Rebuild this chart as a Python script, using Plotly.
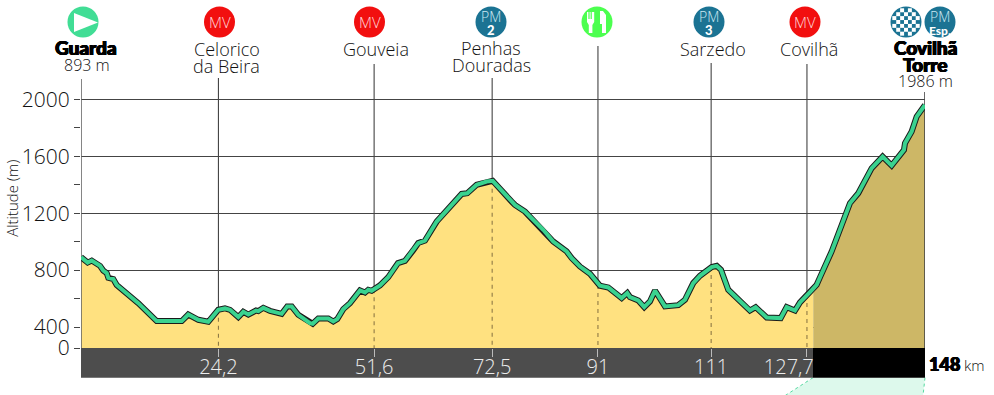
import plotly.graph_objects as go

# ---- data ----
KM = [0,0.58,1.17,1.88,2.45,3.33,3.91,4.51,4.79,5.66,6.26,10.05,13.27,17.66,18.81,20.57,22.32,23.2,24.07,25.25,26.13,27.58,28.46,29.34,30.69,31.09,31.97,33.14,35.19,36.17,36.95,38.1,40.15,40.63,41.61,43.36,44.24,44.94,45.99,47.17,48.92,49.8,50.38,50.97,52.43,53.88,55.58,56.81,58.27,59.14,60.32,62.37,66.75,67.74,69.38,70.26,71.14,72.19,75.52,76.1,77.85,81.06,82.81,85.16,86.04,87.5,89.25,91.0,92.46,94.81,95.79,96.26,97.72,98.77,99.77,100.65,102.4,104.73,105.91,107.36,108.54,110.59,111.47,112.22,113.5,117.3,118.3,120.24,122.69,123.74,125.2,126.08,127.83,128.4,129.0,129.58,131.63,134.84,136.3,138.65,140.57,142.15,144.31,144.49,145.66,146.54,148]
ALT = [891,872,853,867,853,830,797,779,746,737,695,568,442,442,488,451,437,479,521,531,521,470,507,488,516,512,535,514,493,545,545,486,428,423,460,460,439,456,526,568,657,643,662,655,693,751,849,865,940,990,1008,1141,1335,1340,1399,1411,1422,1427,1281,1258,1211,1083,1001,931,884,825,774,690,678,604,639,611,587,540,580,657,545,554,592,709,760,821,830,802,662,516,540,467,463,540,516,573,646,671,697,749,931,1270,1340,1516,1597,1534,1644,1691,1773,1878,1960]
SPLIT_KM = 128.4
STEM_KM = [0, 24.1, 51.4, 72.1, 90.65, 110.5, 127.3, 148]
STEM_ALT = [891, 521, 665, 1427, 695, 821, 625, 1960]
STEM_TOP_PX = [79, 78, 64, 78, 46, 63, 64, 92]
KM_TICKS = [24.1, 51.4, 72.1, 90.65, 110.5, 127.3]
KM_LABELS = ["24,2", "51,6", "72,5", "91", "111", "127,7"]
ALT_TICKS = [253, 400, 800, 1200, 1600, 2000]
ALT_LABELS = ["0", "400", "800", "1200", "1600", "2000"]
ALT_MINOR = [600, 1000, 1400, 1800]

W, H = 994, 395
L, R, B = 81, 925, 348.3
AX_BOTTOM, AX_TOP = 253, 2697
TXT = "#111111"
FONT = "Open Sans"
HEAVY = "Lato"
THICK = "0.6px 0 0 #000, -0.6px 0 0 #000, 0 0.4px 0 #000, 0 -0.4px 0 #000"

def X(px): return (px - L) * 148 / (R - L)
def Y(py): return AX_TOP - py * (AX_TOP - AX_BOTTOM) / B
def PX(px): return (px - L) / (R - L)
def PY(py): return (B - py) / B
def path(pts):
    return "M" + "L".join(f"{PX(a):.5f},{PY(b):.5f}" for a, b in pts) + "Z"

i_split = KM.index(SPLIT_KM)
fig = go.Figure()
# filled profile
fig.add_trace(go.Scatter(x=KM[:i_split+1], y=ALT[:i_split+1], mode="none", fill="tozeroy", fillcolor="#FFE180"))
fig.add_trace(go.Scatter(x=KM[i_split:], y=ALT[i_split:], mode="none", fill="tozeroy", fillcolor="#CDB766"))
# waypoint stems
for k, a, t in zip(STEM_KM, STEM_ALT, STEM_TOP_PX):
    edge = k in (0, 148)
    fig.add_trace(go.Scatter(x=[k, k], y=[Y(t), a], mode="lines", cliponaxis=False,
                             line=dict(color="#666666" if k == 0 else "#444444", width=1.6 if edge else 1.1)))
    fig.add_trace(go.Scatter(x=[k, k], y=[a, AX_BOTTOM], mode="lines", cliponaxis=False,
                             line=dict(color="#666666" if k == 0 else ("#444444" if edge else "#8F7A45"),
                                       width=1.6 if edge else 1.1,
                                       dash="solid" if edge else "4px,4px")))
# profile line
fig.add_trace(go.Scatter(x=KM, y=ALT, mode="lines", line=dict(color="#1A1A1A", width=6), cliponaxis=False))
fig.add_trace(go.Scatter(x=KM, y=ALT, mode="lines", line=dict(color="#3AD28F", width=4), cliponaxis=False))

# icon discs
ICON_PX = [83, 219.5, 369.5, 491, 597, 709, 805, 906]
ICON_COL = ["#41DD95", "#F20F0F", "#F20F0F", "#1B7393", "#4CFF4F", "#1B7393", "#F20F0F", "#1B7393"]
fig.add_trace(go.Scatter(x=[X(p) for p in ICON_PX], y=[Y(22)] * len(ICON_PX), mode="markers", cliponaxis=False,
                         marker=dict(size=31, color=ICON_COL, line=dict(width=0))))

shapes = []
# disc lying beyond the end of the distance axis
shapes.append(dict(type="circle", xref="paper", yref="paper", x0=PX(924.5), x1=PX(955.5), y0=PY(37.5), y1=PY(6.5),
                   fillcolor="#1B7393", line=dict(width=0)))
# bottom band and zoom wedge
shapes.append(dict(type="path", xref="paper", yref="paper", layer="below",
                   path=path([(813, 378), (925, 378), (923, 396), (785, 396)]),
                   fillcolor="#DDF9EC", line=dict(width=0)))
for a, b in (((813, 378), (785, 396)), ((925, 378), (923, 396))):
    shapes.append(dict(type="line", xref="paper", yref="paper", layer="below",
                       x0=PX(a[0]), y0=PY(a[1]), x1=PX(b[0]), y1=PY(b[1]),
                       line=dict(color="#55D9A0", width=1, dash="3px,3px")))
shapes.append(dict(type="rect", xref="paper", yref="paper", layer="below", x0=0, x1=PX(813),
                   y0=PY(378), y1=PY(B), fillcolor="#4D4D4D", line=dict(width=0)))
shapes.append(dict(type="rect", xref="paper", yref="paper", layer="below", x0=PX(813), x1=1,
                   y0=PY(378), y1=PY(B), fillcolor="#000000", line=dict(width=0)))
# start triangle
shapes.append(dict(type="path", xref="paper", yref="paper", path=path([(74, 13), (74, 32), (98, 22.5)]),
                   fillcolor="white", line=dict(width=0)))
# fork and knife
cx = 597
fork = [(cx-10, 12), (cx-8.6, 12), (cx-8.6, 19), (cx-7.4, 19), (cx-7.4, 12), (cx-6.4, 12), (cx-6.4, 19), (cx-5.2, 19),
        (cx-5.2, 12), (cx-4.2, 12), (cx-4.2, 12), (cx-2.8, 12), (cx-2.8, 22), (cx-4.6, 25), (cx-4.6, 33), (cx-8.2, 33), (cx-8.2, 25), (cx-10, 22)]
knife = [(cx+3, 11), (cx+6, 11), (cx+9, 15), (cx+9, 33), (cx+5, 33), (cx+5, 24), (cx+3, 24)]
for poly in (fork, knife):
    shapes.append(dict(type="path", xref="paper", yref="paper", path=path(poly), fillcolor="white", line=dict(width=0)))
# chequered disc
for i in range(-3, 4):
    for j in range(-3, 4):
        if (i + j) % 2 == 0 and (i*i + j*j) <= 11:
            a, b = 906 + i*3.9, 22 + j*3.9
            shapes.append(dict(type="rect", xref="paper", yref="paper", x0=PX(a-2), x1=PX(a+2), y0=PY(b-2), y1=PY(b+2),
                               fillcolor="white", line=dict(width=0)))

ann = []
def text(px, py, s, size, color=TXT, family=FONT, weight=300, shadow="none", xanchor="center"):
    ann.append(dict(x=PX(px), y=PY(py), xref="paper", yref="paper", text=s, showarrow=False, xanchor=xanchor,
                    yanchor="middle", borderpad=0,
                    font=dict(family=family, size=size, color=color, weight=weight, shadow=shadow)))

for s, p in (("MV", 219.5), ("MV", 369.5), ("MV", 805)):
    text(p, 22, s, 15, "#FFD9D9")
for num, p in (("2", 491), ("3", 709)):
    text(p, 17, "PM", 14, "#CDE8F2")
    text(p, 30, num, 13, "white", HEAVY, 900)
text(940, 17, "PM", 14, "#CDE8F2")
text(940, 31, "Esp.", 12, "white", HEAVY, 900)

text(86, 48, "Guarda", 19, "#000000", HEAVY, 900, THICK)
text(87, 65, "893 m", 16)
text(226.5, 49, "Celorico", 18)
text(226.5, 66, "da Beira", 18)
text(376, 49, "Gouveia", 18)
text(491, 48, "Penhas", 18)
text(491, 65, "Douradas", 18)
text(712.5, 49, "Sarzedo", 18)
text(809, 49, "Covilhã", 18)
text(925, 48, "Covilhã", 19, "#000000", HEAVY, 900, THICK)
text(925, 65, "Torre", 19, "#000000", HEAVY, 900, THICK)
text(925, 81, "1986 m", 16)
text(928, 364, "148", 18, "#000000", HEAVY, 900, THICK, xanchor="left")
text(963, 365, "km", 15, xanchor="left")
ann.append(dict(x=PX(12), y=PY(199), xref="paper", yref="paper", text="Altitude (m)", textangle=-90, showarrow=False,
                xanchor="center", yanchor="middle", font=dict(family=FONT, size=15, color=TXT, weight=300)))

km_text = [s + "\u00a0" * 7 if s == "127,7" else s for s in KM_LABELS]

fig.update_layout(
    width=W, height=H, margin=dict(l=L, r=W - R, t=0, b=H - B),
    paper_bgcolor="white", plot_bgcolor="white", showlegend=False,
    shapes=shapes, annotations=ann, hovermode=False,
    font=dict(family=FONT),
    xaxis=dict(range=[0, 148], tickmode="array", tickvals=KM_TICKS, ticktext=km_text, showgrid=False, zeroline=False,
               ticks="outside", ticklen=8, tickwidth=1, tickcolor="#BBBBBB", showline=False,
               tickfont=dict(family=FONT, size=20, color="#EDEDED", weight=300), ticklabelstandoff=-7),
    yaxis=dict(range=[AX_BOTTOM, AX_TOP], tickmode="array", tickvals=ALT_TICKS, ticktext=ALT_LABELS, showgrid=True,
               gridcolor="#444444", gridwidth=1, zeroline=False, showline=False,
               ticks="outside", ticklen=6, tickwidth=1, tickcolor="#444444",
               tickfont=dict(family=FONT, size=21, color=TXT, weight=300),
               minor=dict(tickvals=ALT_MINOR, ticks="outside", ticklen=6, tickwidth=1, tickcolor="#444444", showgrid=False)),
)

fig.write_html("out.html", config={"displayModeBar": False},
               post_script="document.body.style.margin='0';document.body.style.overflow='hidden';")
